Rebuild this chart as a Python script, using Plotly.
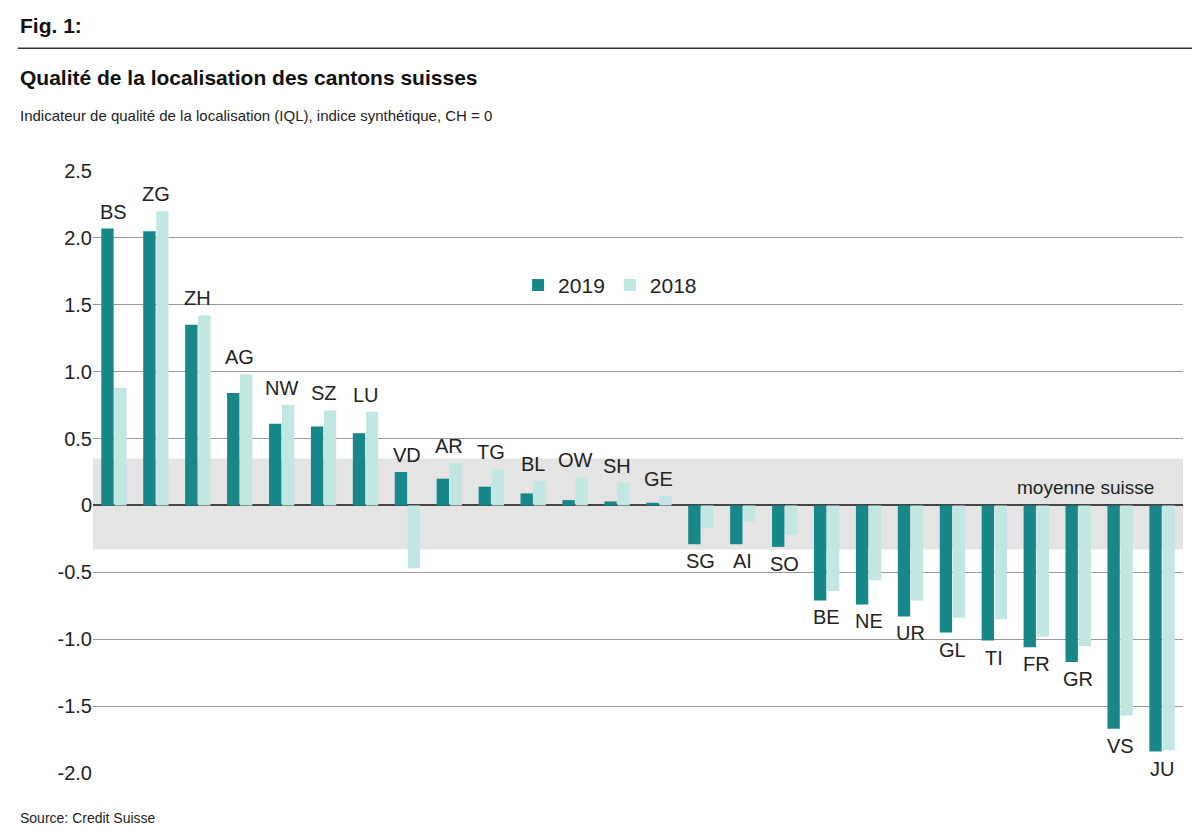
import plotly.graph_objects as go

cantons = ["BS","ZG","ZH","AG","NW","SZ","LU","VD","AR","TG","BL","OW","SH","GE",
           "SG","AI","SO","BE","NE","UR","GL","TI","FR","GR","VS","JU"]
v2019 = [2.07,2.05,1.35,0.84,0.61,0.59,0.54,0.25,0.20,0.14,0.09,0.04,0.03,0.02,
         -0.29,-0.29,-0.31,-0.71,-0.74,-0.83,-0.95,-1.01,-1.06,-1.17,-1.67,-1.84]
v2018 = [0.88,2.20,1.42,0.98,0.75,0.71,0.70,-0.47,0.32,0.27,0.18,0.21,0.17,0.07,
         -0.17,-0.12,-0.22,-0.64,-0.56,-0.71,-0.84,-0.85,-0.98,-1.05,-1.57,-1.83]
tickvals = [2.5,2.0,1.5,1.0,0.5,0,-0.5,-1.0,-1.5,-2.0]
ticktext = ["2.5","2.0","1.5","1.0","0.5","0","-0.5","-1.0","-1.5","-2.0"]
band = [-0.33, 0.35]

F = "Liberation Sans, Arial, sans-serif"
fig = go.Figure()
fig.add_bar(x=cantons, y=v2019, name="2019", marker_color="#17878a", marker_line_width=0)
fig.add_bar(x=cantons, y=v2018, name="2018", marker_color="#c2e6e1", marker_line_width=0)

for c, a, b in zip(cantons, v2019, v2018):
    hi, lo = max(a, b, 0), min(a, b, 0)
    if a >= 0:
        fig.add_annotation(x=c, y=hi, text=c, showarrow=False, yanchor="bottom", yshift=4,
                           font=dict(size=20, color="#222", family=F))
    else:
        fig.add_annotation(x=c, y=lo, text=c, showarrow=False, yanchor="top", yshift=-4,
                           font=dict(size=20, color="#222", family=F))

fig.add_shape(type="rect", xref="paper", yref="y", x0=0, x1=1, y0=band[0], y1=band[1],
              fillcolor="#e4e4e4", line_width=0, layer="below")
fig.add_annotation(xref="paper", x=0.975, y=0.04, yanchor="bottom", xanchor="right",
                   text="moyenne suisse", showarrow=False, font=dict(size=19, color="#222", family=F))

X0 = -0.069
fig.add_annotation(xref="paper", yref="paper", x=X0, y=1.241, xanchor="left", yanchor="middle",
                   text="<b>Fig. 1:</b>", showarrow=False, font=dict(size=21, color="#111", family=F))
fig.add_shape(type="line", xref="paper", yref="paper", x0=X0, x1=1.02, y0=1.204, y1=1.204,
              line=dict(color="#333", width=1.5))
fig.add_annotation(xref="paper", yref="paper", x=X0, y=1.155, xanchor="left", yanchor="middle",
                   text="<b>Qualité de la localisation des cantons suisses</b>", showarrow=False,
                   font=dict(size=21, color="#111", family=F))
fig.add_annotation(xref="paper", yref="paper", x=X0, y=1.093, xanchor="left", yanchor="middle",
                   text="Indicateur de qualité de la localisation (IQL), indice synthétique, CH = 0",
                   showarrow=False, font=dict(size=15, color="#222", family=F))
fig.add_annotation(xref="paper", yref="paper", x=X0, y=-0.075, xanchor="left", yanchor="middle",
                   text="Source: Credit Suisse", showarrow=False, font=dict(size=14, color="#222", family=F))

fig.update_layout(
    width=1200, height=836, paper_bgcolor="white", plot_bgcolor="white",
    margin=dict(l=85, r=25, t=163, b=71, autoexpand=False),
    barmode="group", bargap=0.38, bargroupgap=0.05,
    font=dict(family=F, size=20, color="#222"),
    legend=dict(orientation="h", x=0.39, y=0.81, xanchor="left", yanchor="middle",
                font=dict(size=21, family=F), bgcolor="rgba(0,0,0,0)", traceorder="normal"),
    xaxis=dict(showticklabels=False, showgrid=False, zeroline=False, showline=False, automargin=False),
    yaxis=dict(range=[-2.0, 2.5], tickvals=tickvals, ticktext=ticktext, showgrid=True,
               gridcolor="#9a9a9a", gridwidth=1, zeroline=True, zerolinecolor="#444",
               zerolinewidth=1.5, ticks="", tickfont=dict(size=20, family=F),
               automargin=False),
)
fig.write_html("out.html")
